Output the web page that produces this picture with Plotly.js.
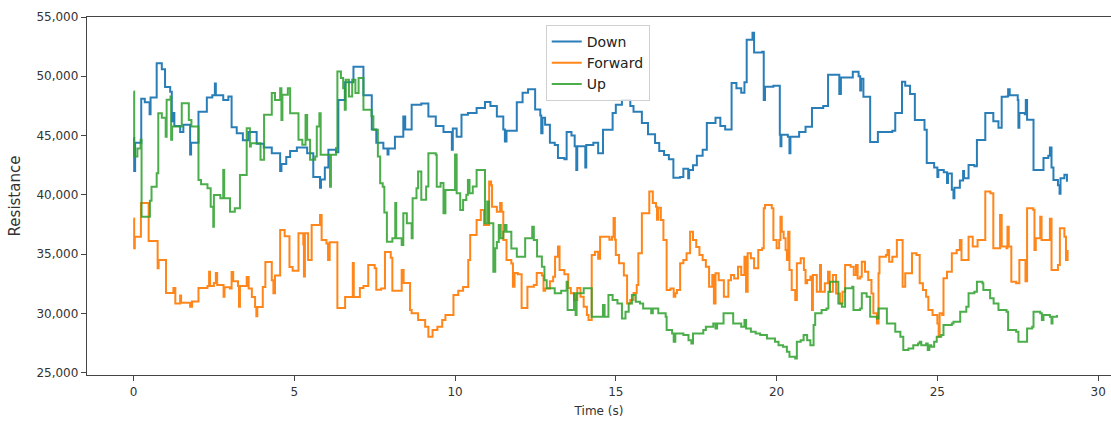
<!DOCTYPE html>
<html>
<head>
<meta charset="utf-8">
<script src="https://cdn.plot.ly/plotly-3.0.1.min.js"></script>
<style>html,body{margin:0;padding:0;background:#fff;}#chart{width:1111px;height:424px;}</style>
</head>
<body>
<div id="chart"></div>
<script>
// Down series
const downTime = [0.00,0.02,0.05,0.24,0.35,0.50,0.53,0.72,0.88,0.98,1.14,1.19,1.22,1.27,1.45,1.55,1.76,1.79,2.02,2.28,2.45,2.53,2.56,2.79,2.95,3.05,3.21,3.40,3.57,3.83,4.05,4.30,4.56,4.60,4.75,4.87,5.08,5.40,5.59,5.80,5.83,5.95,6.06,6.30,6.37,6.58,6.84,7.15,7.41,7.55,7.77,7.90,7.93,8.13,8.39,8.45,8.65,8.95,9.17,9.40,9.64,9.90,9.93,10.05,10.20,10.40,10.67,10.93,11.10,11.30,11.50,11.55,11.60,11.92,12.10,12.27,12.49,12.65,12.68,12.72,12.80,12.95,13.10,13.20,13.40,13.47,13.62,13.72,13.77,13.80,14.00,14.05,14.08,14.30,14.45,14.60,14.90,15.00,15.19,15.45,15.55,15.81,16.00,16.22,16.35,16.50,16.65,16.79,17.00,17.10,17.25,17.28,17.40,17.52,17.70,17.83,18.10,18.25,18.40,18.60,18.75,18.90,19.00,19.07,19.25,19.30,19.55,19.60,19.64,19.90,20.10,20.12,20.15,20.35,20.40,20.43,20.70,20.90,21.10,21.45,21.60,21.90,21.95,22.00,22.37,22.55,22.60,22.63,22.70,22.91,23.15,23.45,23.60,23.69,23.90,24.00,24.15,24.30,24.60,24.67,24.90,25.00,25.03,25.20,25.30,25.33,25.45,25.50,25.53,25.70,25.80,25.83,25.97,26.15,26.23,26.49,26.74,26.90,27.00,27.15,27.20,27.25,27.50,27.52,27.55,27.72,27.75,27.79,27.99,28.20,28.30,28.45,28.50,28.55,28.61,28.75,28.80,28.83,28.95,29.03];
const downValues = [44800,42000,44400,48100,47800,46800,48200,51100,50600,49100,48700,46200,46900,45800,45300,45900,43400,44400,47000,48200,48400,49400,48400,48000,48300,45700,45200,44600,45300,44300,44000,43500,42000,42600,43200,43700,44000,43500,41500,40600,41300,42300,43800,43600,48000,49500,50800,48400,45500,44400,43900,43400,43900,44900,46600,45500,47600,47700,46600,45800,45300,43800,45600,44900,46750,46900,47330,47840,47500,46600,45500,44500,45400,47800,48600,48900,47200,46700,45200,46500,45900,44400,44200,43100,43000,45300,45000,44100,42100,44100,44100,42300,44200,44400,43500,45480,46900,47600,48000,47500,47000,46050,45100,44370,43700,43360,43000,41430,41500,42200,41400,42100,42500,43300,43800,46050,46500,45800,45500,49440,49000,48600,49500,53080,53670,52000,52070,48000,49110,49200,45060,44100,45060,44900,43500,44900,45300,45750,47330,47500,50130,50130,48500,49900,50390,50000,48800,49800,48270,44450,45300,45300,45400,46900,49530,49200,48500,46320,45480,42690,42300,41500,42100,41900,41000,41800,40420,39700,40600,41200,42000,41400,42520,42400,44620,46900,46200,45650,48270,48300,48900,48400,48000,45650,46900,46800,48000,46330,42100,42100,43100,43300,44000,42300,41260,40800,40100,41400,41700,41100];

// Forward series
const forwardTime = [0.00,0.02,0.04,0.23,0.47,0.75,0.78,1.01,1.24,1.30,1.45,1.48,1.76,1.82,2.02,2.30,2.35,2.38,2.50,2.56,2.60,2.80,2.83,3.00,3.05,3.10,3.25,3.28,3.31,3.52,3.58,3.68,3.78,3.82,3.85,4.02,4.10,4.30,4.35,4.40,4.56,4.70,4.85,4.95,5.13,5.28,5.30,5.33,5.43,5.54,5.80,5.85,6.00,6.05,6.10,6.34,6.58,6.75,6.82,6.85,7.04,7.15,7.30,7.50,7.55,7.70,7.82,8.00,8.05,8.20,8.34,8.40,8.55,8.60,8.65,8.85,9.07,9.17,9.30,9.45,9.60,9.70,9.95,10.10,10.25,10.41,10.47,10.67,10.80,10.90,11.06,11.12,11.15,11.30,11.40,11.45,11.50,11.60,11.75,11.80,11.85,11.95,12.07,12.20,12.25,12.45,12.54,12.70,12.75,12.80,12.95,13.05,13.11,13.20,13.25,13.40,13.52,13.60,13.70,13.80,13.90,14.00,14.10,14.15,14.25,14.35,14.45,14.51,14.70,14.80,14.88,14.93,14.97,15.00,15.10,15.25,15.35,15.45,15.55,15.65,15.70,15.81,15.98,16.04,16.15,16.25,16.28,16.32,16.40,16.48,16.58,16.70,16.80,16.85,16.90,17.00,17.10,17.20,17.31,17.40,17.50,17.60,17.70,17.80,17.90,18.00,18.05,18.10,18.20,18.36,18.50,18.58,18.68,18.80,18.90,19.00,19.05,19.10,19.20,19.30,19.43,19.55,19.60,19.64,19.85,19.90,20.00,20.08,20.12,20.16,20.22,20.28,20.32,20.36,20.40,20.47,20.58,20.63,20.75,20.85,20.90,20.95,21.05,21.10,21.13,21.25,21.35,21.38,21.50,21.60,21.65,21.75,21.85,21.97,22.05,22.13,22.30,22.40,22.47,22.52,22.60,22.65,22.75,22.85,22.95,23.01,23.12,23.17,23.20,23.40,23.45,23.50,23.60,23.74,23.90,23.92,24.00,24.21,24.35,24.45,24.55,24.65,24.72,24.85,25.00,25.04,25.07,25.15,25.19,25.30,25.45,25.60,25.70,25.75,25.97,26.10,26.25,26.45,26.49,26.65,26.74,26.90,26.95,27.00,27.15,27.18,27.22,27.30,27.45,27.55,27.70,27.74,27.79,27.98,28.02,28.06,28.20,28.24,28.45,28.50,28.55,28.75,28.81,28.95,29.00,29.05];
const forwardValues = [38000,35500,36470,39300,36100,33800,34500,31710,32130,30840,31500,30900,30560,31000,32130,32300,33500,32300,32560,33400,32400,31400,32200,32100,33490,32700,32300,30560,32300,33070,32100,31380,30540,29750,30540,32220,34330,32800,31700,33200,37030,36500,33910,33600,36750,35800,33100,36750,34500,37450,38290,36180,35900,34500,36000,30450,31380,31380,34250,31380,32130,32300,34080,33800,32000,32100,35170,34700,31900,31900,33660,32560,32560,30280,30000,29430,28870,28020,28600,28870,29430,29860,31550,31900,32220,34500,36610,37880,38720,37450,41120,40800,39000,38580,39300,38580,36190,34500,34200,32250,33400,33300,30450,30450,32250,32400,33400,33200,31900,32100,32700,33090,34780,35630,33660,33300,32130,31700,31120,32130,31400,30560,29860,29430,34920,35200,34600,36470,36470,36200,36470,38050,36200,34920,34220,33200,30840,31120,31710,32400,35060,38440,38440,40270,39300,39000,37900,38900,37880,36190,31970,32100,31400,31700,31970,34220,34500,35060,36890,36190,35600,34920,34500,33940,32250,33230,30840,33380,32800,31400,32800,33230,32940,33940,33230,34780,31820,35060,34640,33800,35350,35490,38870,39150,38870,36190,35490,36190,38160,36890,36330,35350,34500,36890,33660,31970,31120,34220,34640,33660,32530,32810,33100,30280,33230,31820,34080,31820,32530,33520,31820,33230,31680,30840,31820,34080,33940,33230,34080,32950,33090,34360,33520,32810,31680,30000,29150,33380,34780,34920,35350,34360,34780,36190,36190,32250,33380,35060,34920,32530,31960,31400,30280,29860,29150,28020,30000,29860,32960,33520,35060,35350,36190,34500,36470,35630,36190,36190,40270,40130,35490,35490,38300,35630,35490,37300,35630,32670,32530,34500,34500,32700,38870,38730,35350,36330,38160,36190,36190,37990,33660,34080,37180,36470,34500,35350];

// Up series
const upTime = [0.00,0.02,0.12,0.22,0.25,0.51,0.56,0.72,0.77,0.88,1.00,1.03,1.15,1.17,1.20,1.50,1.70,1.72,1.80,2.02,2.10,2.30,2.40,2.48,2.50,2.70,2.79,2.82,3.00,3.15,3.31,3.52,3.62,3.65,3.93,3.95,4.06,4.30,4.40,4.56,4.60,4.63,4.80,4.87,5.13,5.25,5.35,5.40,5.49,5.65,5.70,5.78,5.82,6.05,6.11,6.14,6.30,6.34,6.45,6.52,6.57,6.60,6.70,6.80,6.90,7.00,7.15,7.35,7.40,7.46,7.60,7.67,7.75,7.80,7.88,8.05,8.14,8.17,8.34,8.39,8.50,8.60,8.65,8.68,8.80,8.85,8.95,9.10,9.17,9.40,9.43,9.55,9.64,9.70,9.90,10.00,10.05,10.16,10.25,10.35,10.40,10.45,10.55,10.67,10.93,11.00,11.05,11.19,11.25,11.30,11.36,11.42,11.50,11.55,11.60,11.71,11.75,11.92,12.18,12.35,12.40,12.45,12.55,12.70,12.78,12.85,13.10,13.30,13.47,13.50,13.65,13.70,13.75,13.78,14.00,14.25,14.55,14.60,14.65,14.77,14.90,15.05,15.19,15.30,15.40,15.50,15.62,15.75,15.85,16.05,16.10,16.15,16.32,16.55,16.58,16.75,16.80,16.85,17.10,17.26,17.35,17.40,17.72,17.80,18.03,18.10,18.15,18.35,18.60,18.65,18.90,19.00,19.05,19.20,19.35,19.49,19.70,19.95,20.06,20.20,20.32,20.40,20.58,20.63,20.75,20.84,20.95,21.05,21.15,21.20,21.35,21.40,21.55,21.61,21.66,21.87,21.92,22.03,22.13,22.35,22.39,22.60,22.65,22.80,22.91,23.12,23.17,23.38,23.43,23.58,23.69,23.85,23.94,24.10,24.25,24.40,24.45,24.50,24.65,24.70,24.75,24.81,24.90,24.98,25.12,25.19,25.45,25.50,25.71,25.90,25.97,26.15,26.23,26.40,26.43,26.64,26.75,26.90,27.15,27.20,27.45,27.52,27.75,27.79,27.95,27.99,28.20,28.25,28.30,28.50,28.55,28.58,28.72];
const upValues = [48720,43230,43900,44640,38160,39500,40690,41820,46890,46500,44900,48010,48290,44640,45760,47730,47730,46320,45760,41260,40900,40560,39000,37310,39990,39700,42100,39700,38580,38870,41680,45620,44070,44360,44360,42950,46750,48580,48000,49000,46320,48440,49000,46890,44640,44220,46740,44640,42950,43230,45760,46890,43370,43370,40690,43370,43940,50410,49850,49000,47170,49700,48290,49700,48580,49850,47170,47170,46620,45480,43230,40980,40690,38500,36050,36330,39300,36330,35770,38440,37600,37600,36330,39710,40560,41960,39580,40700,43510,43370,40690,41000,38440,40410,40410,43400,40130,38720,39570,40000,41260,40130,40700,42100,37600,39430,37600,33510,35500,36030,37460,36330,36890,37460,36890,36890,35480,34780,36330,36330,37310,36190,34800,33940,32800,32110,31690,31900,32670,30280,30280,31690,29860,31690,32110,29710,29710,30700,29710,31550,31120,30840,29570,30140,30840,31550,30980,30840,30420,30420,30000,30420,30000,29710,28590,28310,27600,28310,28170,27740,27460,28310,28590,28870,29150,28730,29150,30000,30000,29150,28870,29430,28730,28450,28310,28170,27880,27600,27320,27180,26760,26330,26200,27600,27740,28170,27740,27320,29010,30000,30000,30280,30420,31820,32670,32670,30840,30560,32110,32250,30280,30420,31690,31400,29710,29570,30420,30420,29150,29150,28450,28020,26900,27040,27320,27460,27600,27320,27460,26900,27320,27180,27600,28020,28170,29010,29150,29290,30140,30560,31690,31830,32670,32530,31970,31270,30840,30280,30140,28590,28450,27600,27600,28730,28870,30140,30000,29430,29860,29710,29150,29710,29860];

const seriesNames = ['Down', 'Forward', 'Up'];
const seriesColors = ['#1f77b4', '#ff7f0e', '#2ca02c'];

const font = "'DejaVu Sans', sans-serif";
const xs = [downTime, forwardTime, upTime];
const ys = [downValues, forwardValues, upValues];

const traces = seriesNames.map((name, i) => ({
  x: xs[i], y: ys[i], name: name, type: 'scatter', mode: 'lines',
  line: {color: seriesColors[i], width: 2, shape: 'hv'},
  opacity: i === 2 ? 0.85 : 0.95
}));

const layout = {
  width: 1111, height: 424,
  margin: {l: 87, r: 0, t: 17, b: 49, pad: 0},
  paper_bgcolor: '#fff', plot_bgcolor: '#fff',
  font: {family: font, size: 12, color: '#333'},
  showlegend: true,
  legend: {
    x: 0.448, y: 0.978, xanchor: 'left', yanchor: 'top',
    bgcolor: 'rgba(255,255,255,0.85)', bordercolor: '#d0d0d0', borderwidth: 1,
    font: {family: font, size: 14, color: '#222'},
    tracegroupgap: 0
  },
  xaxis: {
    range: [-1.447, 30.4], tick0: 0, dtick: 5,
    showgrid: false, zeroline: false,
    showline: true, linecolor: '#444', linewidth: 1.2, mirror: true,
    ticks: 'outside', ticklen: 5, tickcolor: '#444', tickwidth: 1,
    tickfont: {family: font, size: 12, color: '#333'},
    title: {text: 'Time (s)', font: {family: font, size: 12, color: '#333'}, standoff: 9}
  },
  yaxis: {
    range: [24800, 55000], tick0: 25000, dtick: 5000, tickformat: ',d',
    showgrid: false, zeroline: false,
    showline: true, linecolor: '#444', linewidth: 1.2,
    ticks: 'outside', ticklen: 5, tickcolor: '#444', tickwidth: 1,
    tickfont: {family: font, size: 12, color: '#333'},
    title: {text: 'Resistance', font: {family: font, size: 15, color: '#333'}, standoff: 12}
  }
};

Plotly.newPlot('chart', traces, layout, {displayModeBar: false, staticPlot: true});
</script>
</body>
</html>
